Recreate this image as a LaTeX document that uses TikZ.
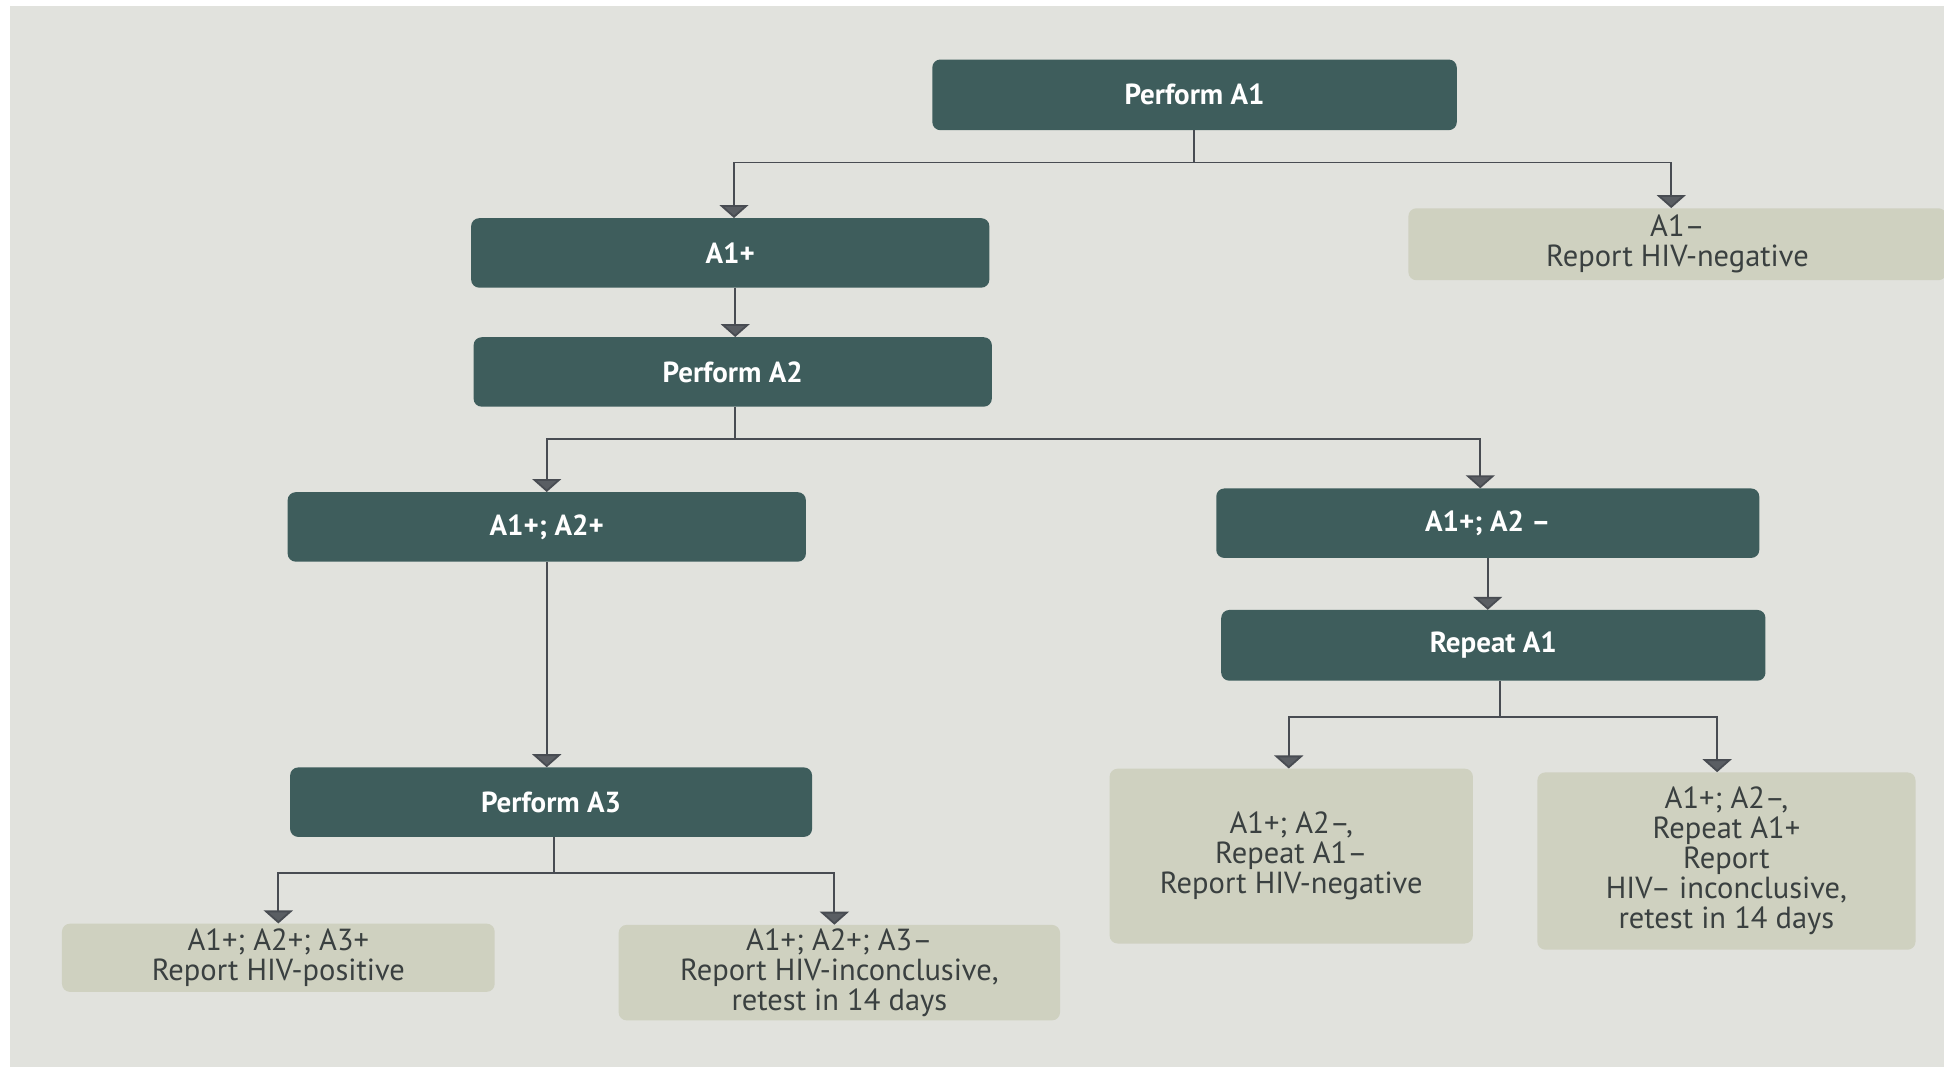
\documentclass[tikz,border=0pt]{standalone}
\usepackage{fontspec}
\setmainfont{PT Sans}
\usetikzlibrary{arrows.meta,calc}
\definecolor{bgc}{RGB}{225,226,221}
\definecolor{darkbox}{RGB}{62,93,92}
\definecolor{lightbox}{RGB}{207,209,192}
\definecolor{ltext}{RGB}{58,64,64}
\definecolor{linec}{RGB}{72,76,82}
\begin{document}
\begin{tikzpicture}[x=1.2398pt,y=-1.2398pt,
  darknode/.style={rectangle,rounded corners=8pt,fill=darkbox,text=white,
    font=\fontsize{29}{33}\selectfont\bfseries,inner sep=0pt,align=center},
  lightnode/.style={rectangle,rounded corners=8pt,fill=lightbox,text=ltext,
    font=\fontsize{30.5}{30}\selectfont,inner sep=0pt,align=center},
  conn/.style={draw=linec,line width=1.8pt},
  arr/.style={conn,-{Triangle[width=29pt,length=13pt,fill=linec!90]}}]
\useasboundingbox (0,0) rectangle (1568,861);
\fill[bgc] (0,0) rectangle (1568,861);
\fill[white] (0,0) rectangle (8,861);
\fill[white] (0,0) rectangle (1568,5);

\node[darknode,minimum width=423*1.2398pt,minimum height=57*1.2398pt] (pA1) at (963.5,76.5) {Perform A1};
\node[darknode,minimum width=418*1.2398pt,minimum height=56*1.2398pt] (a1p) at (589,204) {A1+};
\node[lightnode,minimum width=434*1.2398pt,minimum height=58*1.2398pt] (a1n) at (1353,197) {A1–\\Report HIV-negative};
\node[darknode,minimum width=418*1.2398pt,minimum height=56*1.2398pt] (pA2) at (591,300) {Perform A2};
\node[darknode,minimum width=418*1.2398pt,minimum height=56*1.2398pt] (pp) at (441,425) {A1+; A2+};
\node[darknode,minimum width=438*1.2398pt,minimum height=56*1.2398pt] (pn) at (1200,422) {A1+; A2 –};
\node[darknode,minimum width=439*1.2398pt,minimum height=57*1.2398pt] (rA1) at (1204.5,520.5) {Repeat A1};
\node[lightnode,minimum width=293*1.2398pt,minimum height=141*1.2398pt] (rn) at (1041.5,690.5) {A1+; A2–,\\Repeat A1–\\Report HIV-negative};
\node[lightnode,minimum width=305*1.2398pt,minimum height=143*1.2398pt] (rinc) at (1392.5,694.5) {A1+; A2–,\\Repeat A1+\\Report\\HIV– inconclusive,\\retest in 14 days};
\node[darknode,minimum width=421*1.2398pt,minimum height=56*1.2398pt] (pA3) at (444.5,647) {Perform A3};
\node[lightnode,minimum width=349*1.2398pt,minimum height=55*1.2398pt] (hp) at (224.5,772.5) {A1+; A2+; A3+\\Report HIV-positive};
\node[lightnode,minimum width=356*1.2398pt,minimum height=77*1.2398pt] (hinc) at (677,784.5) {A1+; A2+; A3–\\Report HIV-inconclusive,\\retest in 14 days};

% Perform A1 branches
\coordinate (j1) at (963,131);
\draw[conn] (pA1.south -| j1) -- (j1);
\draw[arr] (j1) -| ($(a1p.north)+(3,0)$);
\draw[arr] (j1) -| ($(a1n.north)+(-5,0)$);
% A1+ -> Perform A2
\draw[arr] ($(a1p.south)+(4,0)$) -- ($(a1p.south |- pA2.north)+(4,0)$);
% Perform A2 branches
\coordinate (j2) at (593,354);
\draw[conn] (pA2.south -| j2) -- (j2);
\draw[arr] (j2) -| (pp.north);
\draw[arr] (j2) -| ($(pn.north)+(-6,0)$);
% A1+;A2- -> Repeat A1
\draw[arr] (pn.south) -- (pn.south |- rA1.north);
% Repeat A1 branches
\coordinate (j3) at (1210,578);
\draw[conn] (rA1.south -| j3) -- (j3);
\draw[arr] (j3) -| ($(rn.north)+(-2,0)$);
\draw[arr] (j3) -| (rinc.north -| 1385,0);
% A1+;A2+ -> Perform A3
\draw[arr] (pp.south) -- (pp.south |- pA3.north);
% Perform A3 branches
\coordinate (j4) at (447,704);
\draw[conn] (pA3.south -| j4) -- (j4);
\draw[arr] (j4) -| (hp.north);
\draw[arr] (j4) -| (hinc.north -| 673,0);
\end{tikzpicture}
\end{document}
